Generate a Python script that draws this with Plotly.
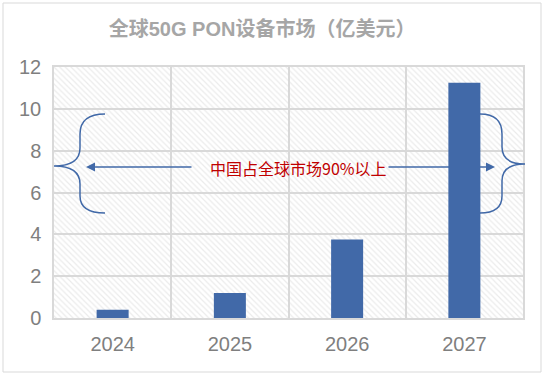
import plotly.graph_objects as go

# ---- data ----
years = ["2024", "2025", "2026", "2027"]
values = [0.4, 1.2, 3.75, 11.25]
y_ticks = [0, 2, 4, 6, 8, 10, 12]
title_text = "全球50G PON设备市场（亿美元）"
note_text = "中国占全球市场90%以上"

W, H = 546, 378
ML, MR, MT, MB = 54, 23, 67, 60
PW, PH = W - ML - MR, H - MT - MB

def px(x):
    return (x - ML) / PW

def py(y):
    return (H - MB - y) / PH

BLUE = "#4169A8"
GRID = "#D9D9D9"
FONT = "Liberation Sans, Arial, Noto Sans CJK SC, sans-serif"

n = len(years)
pos = list(range(n))

fig = go.Figure()
# hatched plot background
fig.add_bar(
    x=[(n - 1) / 2], y=[max(y_ticks)], width=[n],
    marker=dict(color="rgba(0,0,0,0)", line=dict(width=0),
                pattern=dict(shape="\\", fgcolor="#D8D8D8", size=4, solidity=0.3)),
    hoverinfo="skip", showlegend=False,
)
fig.add_bar(x=pos, y=values, width=0.273,
            marker=dict(color=BLUE, line=dict(width=0)), showlegend=False)

lb = (f"M {px(105)},{py(114)} Q {px(80)},{py(114)} {px(80)},{py(134)} "
      f"L {px(80)},{py(148)} Q {px(80)},{py(166)} {px(54)},{py(166)} "
      f"Q {px(80)},{py(166)} {px(80)},{py(184)} L {px(80)},{py(196)} "
      f"Q {px(80)},{py(213)} {px(105)},{py(213)}")
rb = (f"M {px(480)},{py(114)} Q {px(502)},{py(114)} {px(502)},{py(134)} "
      f"L {px(502)},{py(147)} Q {px(502)},{py(164)} {px(525)},{py(164)} "
      f"Q {px(502)},{py(164)} {px(502)},{py(181)} L {px(502)},{py(196)} "
      f"Q {px(502)},{py(213)} {px(480)},{py(213)}")

shapes = [
    dict(type="path", path=lb, xref="paper", yref="paper",
         line=dict(color=BLUE, width=1.5)),
    dict(type="path", path=rb, xref="paper", yref="paper",
         line=dict(color=BLUE, width=1.5)),
    dict(type="rect", xref="paper", yref="paper",
         x0=px(3), x1=px(541), y0=py(372), y1=py(3),
         line=dict(color=GRID, width=1), layer="below"),
]

annotations = [
    dict(x=px(86), y=py(167), xref="paper", yref="paper", ax=107, ay=0,
         text="", showarrow=True, arrowhead=2, arrowsize=1.2, arrowwidth=1.5,
         arrowcolor=BLUE),
    dict(x=px(495), y=py(167), xref="paper", yref="paper", ax=-108, ay=0,
         text="", showarrow=True, arrowhead=2, arrowsize=1.2, arrowwidth=1.5,
         arrowcolor=BLUE),
    dict(x=px(298.5), y=py(168), xref="paper", yref="paper", text=note_text,
         showarrow=False, xanchor="center", yanchor="middle",
         font=dict(family="Noto Sans CJK SC, sans-serif", size=16, color="#C00000")),
]

fig.update_layout(
    width=W, height=H,
    margin=dict(l=ML, r=MR, t=MT, b=MB),
    paper_bgcolor="white", plot_bgcolor="white",
    barmode="overlay",
    title=dict(text=title_text, x=0.48, xref="container", xanchor="center",
               y=1 - 29 / H, yref="container", yanchor="middle",
               font=dict(family=FONT, size=20, color="#A6A6A6", weight="bold")),
    xaxis=dict(range=[-0.5, n - 0.5], tickmode="array", tickvals=pos, ticktext=years,
               showgrid=False, zeroline=False, showline=True, mirror=True,
               linecolor=GRID, linewidth=1.5,
               ticks="outside", ticklen=7, tickcolor="rgba(0,0,0,0)",
               minor=dict(tickmode="array", tickvals=[i + 0.5 for i in range(n - 1)],
                          showgrid=True, gridcolor=GRID, gridwidth=1.5),
               tickfont=dict(family=FONT, size=20, color="#7F7F7F")),
    yaxis=dict(range=[min(y_ticks), max(y_ticks)], tickmode="array", tickvals=y_ticks,
               showgrid=True, gridcolor=GRID, gridwidth=1.5, zeroline=False,
               showline=True, mirror=True, linecolor=GRID, linewidth=1.5,
               ticks="outside", ticklen=7, tickcolor="rgba(0,0,0,0)",
               tickfont=dict(family=FONT, size=20, color="#7F7F7F")),
    shapes=shapes,
    annotations=annotations,
    showlegend=False,
)

fig.write_html("out.html", config={"displayModeBar": False},
               post_script="document.body.style.margin='0';")
